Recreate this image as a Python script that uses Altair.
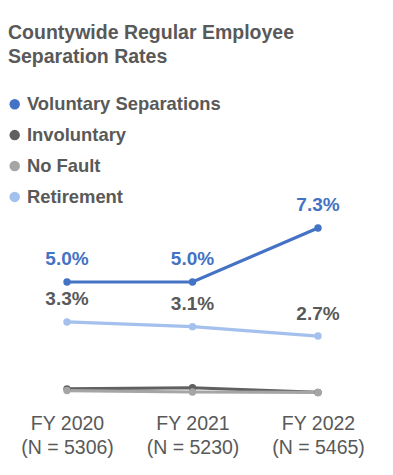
import altair as alt
import pandas as pd

years = ["FY 2020\n(N = 5306)", "FY 2021\n(N = 5230)", "FY 2022\n(N = 5465)"]
series = ["Voluntary Separations", "Involuntary", "No Fault", "Retirement"]
voluntary = [5.0, 5.0, 7.3]
involuntary = [0.45, 0.5, 0.3]
no_fault = [0.38, 0.32, 0.3]
retirement = [3.3, 3.1, 2.7]
colors = ["#4472C4", "#606060", "#A5A5A5", "#A4C0EC"]

rows = []
for name, vals in zip(series, [voluntary, involuntary, no_fault, retirement]):
    for y, v in zip(years, vals):
        rows.append({"year": y, "series": name, "rate": v, "label": f"{v:.1f}%"})
df = pd.DataFrame(rows)

FONT = "Liberation Sans"
TXT = "#595959"

x = alt.X("year:N", sort=years, scale=alt.Scale(padding=0.3745),
          axis=alt.Axis(title=None, domain=False, ticks=False, labelAngle=0,
                        labelExpr="split(datum.label, '\\n')", labelFont=FONT,
                        labelFontSize=19.5, labelColor=TXT, labelPadding=15,
                        labelLineHeight=24, grid=False))
y = alt.Y("rate:Q", scale=alt.Scale(domain=[0, 8], nice=False), axis=None)
legend = alt.Legend(title=None, orient="none", legendX=-14.5, legendY=-116.5,
                    padding=0, symbolType="circle", symbolSize=110,
                    labelFont=FONT, labelFontSize=18.4, labelFontWeight="bold",
                    labelColor=TXT, labelOffset=3, rowPadding=11.9,
                    labelLimit=400, symbolStrokeWidth=0)
color = alt.Color("series:N", scale=alt.Scale(domain=series, range=colors),
                  sort=series, legend=legend)

base = alt.Chart(df)
lines = base.mark_line(strokeWidth=3.2).encode(x=x, y=y, color=color)
points = base.mark_point(filled=True, size=55, opacity=1).encode(x=x, y=y, color=color)
labels_blue = base.transform_filter(alt.datum.series == "Voluntary Separations").mark_text(
    font=FONT, fontSize=19, fontWeight="bold", color="#4472C4", dy=-17,
    baseline="alphabetic").encode(x=x, y=y, text="label:N")
labels_gray = base.transform_filter(alt.datum.series == "Retirement").mark_text(
    font=FONT, fontSize=19, fontWeight="bold", color=TXT, dy=-16.5,
    baseline="alphabetic").encode(x=x, y=y, text="label:N")

chart = alt.layer(lines, points, labels_blue, labels_gray).properties(
    width=345, height=188,
    title=alt.TitleParams(["Countywide Regular Employee", "Separation Rates"],
                          anchor="start", frame="group", orient="top",
                          font=FONT, fontSize=19.5, fontWeight="bold", color=TXT,
                          baseline="top", lineHeight=24, offset=0, dx=-12, dy=-28),
    autosize=alt.AutoSizeParams(type="none"),
    padding={"left": 12, "top": 203.5, "right": 20, "bottom": 70},
).configure_view(stroke=None)

chart.save("out.html", embed_options={"renderer": "svg", "actions": False})
